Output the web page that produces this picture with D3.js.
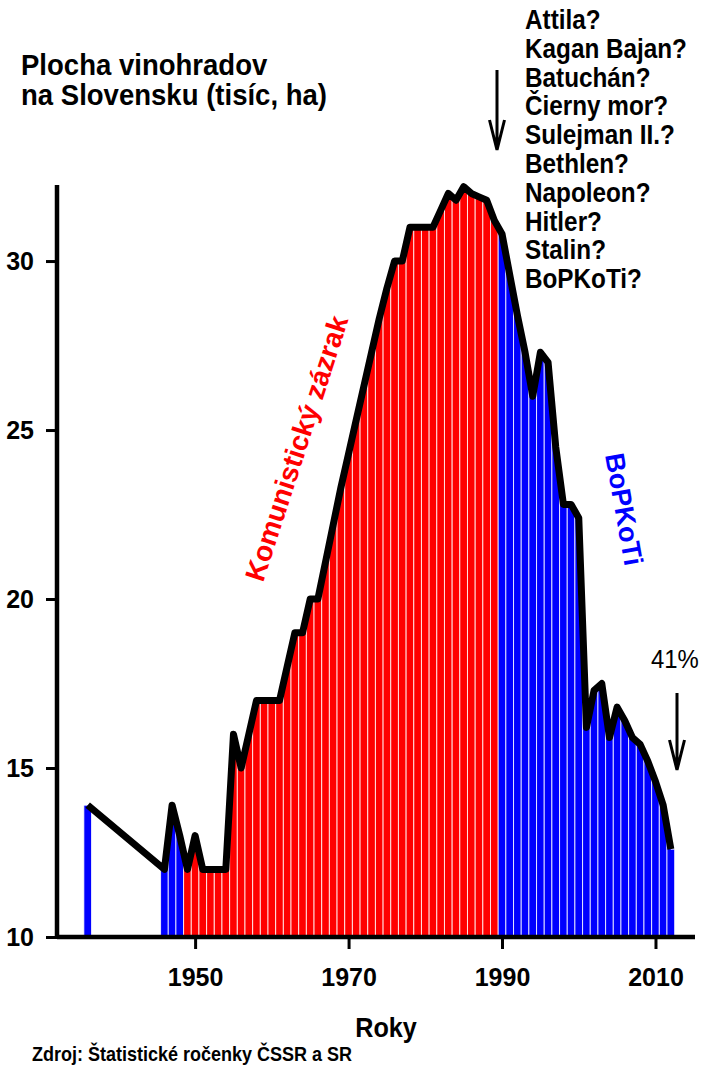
<!DOCTYPE html>
<html>
<head>
<meta charset="utf-8">
<script src="https://cdn.jsdelivr.net/npm/d3@7"></script>
<style>
  body { margin: 0; background: #fff; }
  svg text { font-family: "Liberation Sans", Arial, sans-serif; font-weight: bold; fill: #000; }
</style>
</head>
<body>
<svg id="chart" width="705" height="1073"></svg>
<script>
// years and vineyard area in Slovakia (thousand ha)
const years = [1936,
  1946, 1947, 1948, 1949, 1950, 1951, 1952, 1953, 1954, 1955, 1956, 1957, 1958, 1959,
  1960, 1961, 1962, 1963, 1964, 1965, 1966, 1967, 1968, 1969, 1970, 1971, 1972, 1973,
  1974, 1975, 1976, 1977, 1978, 1979, 1980, 1981, 1982, 1983, 1984, 1985, 1986, 1987,
  1988, 1989, 1990, 1991, 1992, 1993, 1994, 1995, 1996, 1997, 1998, 1999, 2000, 2001,
  2002, 2003, 2004, 2005, 2006, 2007, 2008, 2009, 2010, 2011, 2012];
const area = [13.9,
  12.0, 13.9, 13.0, 12.0, 13.0, 12.0, 12.0, 12.0, 12.0, 16.0, 15.0, 16.0, 17.0, 17.0,
  17.0, 17.0, 18.0, 19.0, 19.0, 20.0, 20.0, 21.1, 22.2, 23.3, 24.3, 25.3, 26.3, 27.3,
  28.3, 29.2, 30.0, 30.0, 31.0, 31.0, 31.0, 31.0, 31.5, 32.0, 31.8, 32.2, 32.0, 31.9,
  31.8, 31.2, 30.8, 29.6, 28.4, 27.3, 26.0, 27.3, 27.0, 24.5, 22.8, 22.8, 22.4, 16.2,
  17.3, 17.5, 15.9, 16.8, 16.4, 15.9, 15.7, 15.2, 14.6, 13.9, 12.6];

const communistFrom = 1949, communistTo = 1989;
const yTicks = [10, 15, 20, 25, 30];
const xTicks = [1950, 1970, 1990, 2010];
const suspects = ["Attila?", "Kagan Bajan?", "Batuchán?", "Čierny mor?", "Sulejman II.?",
  "Bethlen?", "Napoleon?", "Hitler?", "Stalin?", "BoPKoTi?"];

const RED = "#ff0000", BLUE = "#0000ff";
const sx = 0.9; // the original picture is a bit squeezed horizontally

const svg = d3.select("#chart");
const data = years.map((y, i) => ({ year: y, v: area[i] }));

const x = d3.scaleLinear().domain([1932, 2015.15]).range([57, 695]);
const y = d3.scaleLinear().domain([10, 32.25]).range([937, 185]);

// value of the black line at any (fractional) year
function lineAt(t) {
  if (t <= years[0]) return area[0];
  if (t >= years[years.length - 1]) return area[area.length - 1];
  const i = d3.bisectRight(years, t);
  const a = data[i - 1], b = data[i];
  return a.v + (b.v - a.v) * (t - a.year) / (b.year - a.year);
}

// bars, one per year, topped by the line
svg.append("g")
  .selectAll("path")
  .data(data)
  .join("path")
  .attr("d", d => {
    const l = d.year - 0.5, r = d.year + 0.5;
    return "M" + x(l) + "," + y(10) +
      "L" + x(l) + "," + y(lineAt(l)) +
      "L" + x(d.year) + "," + y(d.v) +
      "L" + x(r) + "," + y(lineAt(r)) +
      "L" + x(r) + "," + y(10) + "Z";
  })
  .attr("fill", d => (d.year >= communistFrom && d.year <= communistTo) ? RED : BLUE)
  .attr("stroke", "#fff")
  .attr("stroke-opacity", 0.8)
  .attr("stroke-width", 1);

// thick black line
svg.append("path")
  .datum(data)
  .attr("fill", "none")
  .attr("stroke", "#000")
  .attr("stroke-width", 7)
  .attr("stroke-linejoin", "round")
  .attr("d", d3.line().x(d => x(d.year)).y(d => y(d.v)));

// axes
const yAxis = svg.append("g")
  .attr("transform", "translate(57,0)")
  .call(d3.axisLeft(y).tickValues(yTicks).tickSize(11).tickSizeOuter(0).tickPadding(12));
const xAxis = svg.append("g")
  .attr("transform", "translate(0,937)")
  .call(d3.axisBottom(x).tickValues(xTicks).tickFormat(d3.format("d")).tickSize(12).tickSizeOuter(0).tickPadding(19));
[yAxis, xAxis].forEach(g => {
  g.select(".domain").attr("stroke-width", 4.5);
  g.selectAll(".tick line").attr("stroke-width", 3);
  g.selectAll(".tick text").attr("font-size", 25).attr("font-family", null).attr("fill", "#000");
});
yAxis.select(".domain").attr("d", "M0," + y(10) + "V" + y(32.25));
xAxis.select(".domain").attr("d", "M" + x(1932) + ",0H" + x(2015.15));

// horizontal text helper
function label(str, px, py, size, opts) {
  opts = opts || {};
  return svg.append("text")
    .attr("transform", "translate(" + px + "," + py + ") scale(" + (opts.sx || sx) + ",1)")
    .attr("text-anchor", opts.anchor || "start")
    .attr("font-size", size)
    .style("font-weight", opts.weight || "bold")
    .text(str);
}

label("Plocha vinohradov", 21, 75, 29, { sx: 0.95 });
label("na Slovensku (tisíc, ha)", 21, 105, 29, { sx: 0.95 });
suspects.forEach((s, i) => label(s, 525, 29 + i * 28.8, 27));
label("Roky", 386, 1037, 28, { anchor: "middle" });
label("Zdroj: Štatistické ročenky ČSSR a SR", 32, 1061, 20);
label("41%", 651, 668, 26, { weight: "normal", sx: 0.92 });

// rotated era labels
svg.append("text")
  .attr("transform", "translate(263,583) rotate(-72)")
  .attr("font-size", 28).style("fill", RED)
  .text("Komunistický zázrak");
svg.append("text")
  .attr("transform", "translate(605,455) rotate(80)")
  .attr("font-size", 27).style("fill", BLUE)
  .text("BoPKoTi");

// arrows
function arrow(ax, y1, y2) {
  svg.append("path")
    .attr("d", "M" + ax + "," + y1 + "V" + y2 + "M" + (ax - 7.5) + "," + (y2 - 30) + "L" + ax + "," + y2 + "L" + (ax + 7.5) + "," + (y2 - 30))
    .attr("fill", "none").attr("stroke", "#000").attr("stroke-width", 3);
}
arrow(497, 70, 150);
arrow(677, 693, 770);
</script>
</body>
</html>
